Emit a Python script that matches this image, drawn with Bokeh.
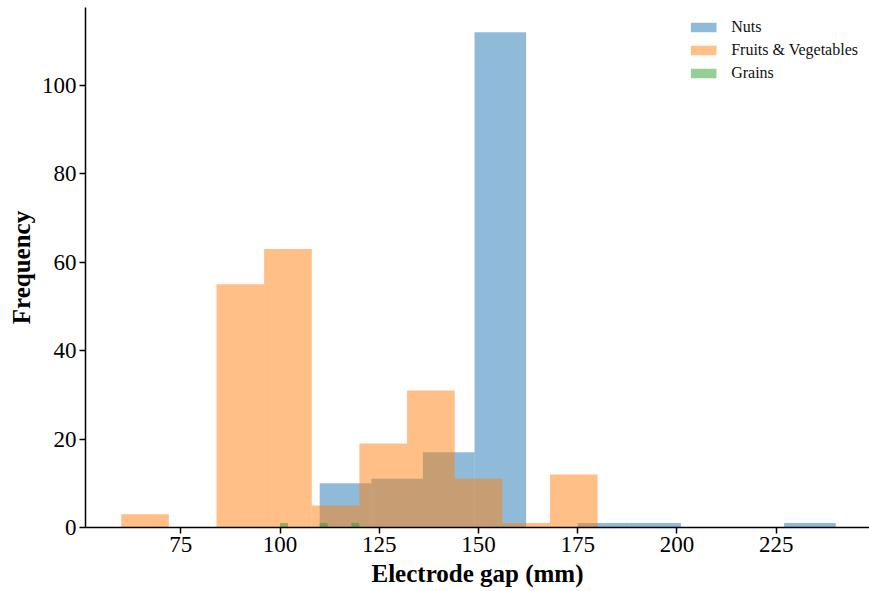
from bokeh.plotting import figure
from bokeh.models import Range1d, FixedTicker
from bokeh.embed import file_html
from bokeh.resources import INLINE

# Histogram bin edges and counts per food category
nuts_edges = [110, 123, 136, 149, 162, 175, 188, 201, 214, 227, 240]
nuts_counts = [10, 11, 17, 112, 0, 1, 1, 0, 0, 1]

fruit_edges = [60, 72, 84, 96, 108, 120, 132, 144, 156, 168, 180]
fruit_counts = [3, 0, 55, 63, 5, 19, 31, 11, 1, 12]

grain_edges = [100, 102, 104, 106, 108, 110, 112, 114, 116, 118, 120]
grain_counts = [1, 0, 0, 0, 0, 1, 0, 0, 0, 1]

x_ticks = [75, 100, 125, 150, 175, 200, 225]
y_ticks = [0, 20, 40, 60, 80, 100]

FONT = "Liberation Serif"

p = figure(width=869, height=591, output_backend="svg", toolbar_location=None,
           x_range=Range1d(51, 248.5), y_range=Range1d(0, 117.6),
           min_border_left=85, min_border_right=0, min_border_top=7,
           min_border_bottom=64)
p.outline_line_color = None
p.xgrid.visible = False
p.ygrid.visible = False

series = [
    ("Nuts", nuts_edges, nuts_counts, "#1f77b4"),
    ("Fruits & Vegetables", fruit_edges, fruit_counts, "#ff7f0e"),
    ("Grains", grain_edges, grain_counts, "#2ca02c"),
]
for name, edges, counts, color in series:
    p.quad(left=edges[:-1], right=edges[1:], bottom=0, top=counts,
           fill_color=color, fill_alpha=0.5, line_alpha=0,
           legend_label=name)

for ax in (p.xaxis[0], p.yaxis[0]):
    ax.axis_line_width = 1.5
    ax.axis_line_color = "black"
    ax.major_tick_line_width = 1.5
    ax.major_tick_out = 6
    ax.major_tick_in = 0
    ax.minor_tick_line_color = None
    ax.major_label_text_font = FONT
    ax.major_label_text_font_size = "23px"
    ax.major_label_text_color = "black"
    ax.axis_label_text_font = FONT
    ax.axis_label_text_font_style = "bold"
    ax.axis_label_text_font_size = "25px"
    ax.axis_label_text_color = "black"

p.xaxis.ticker = FixedTicker(ticks=x_ticks)
p.yaxis.ticker = FixedTicker(ticks=y_ticks)
p.xaxis.axis_label = "Electrode gap (mm)"
p.yaxis.axis_label = "Frequency"
p.xaxis.major_label_standoff = 3
p.yaxis.major_label_standoff = 3
p.xaxis.axis_label_standoff = 5
p.yaxis.axis_label_standoff = 4

lg = p.legend[0]
lg.location = "top_right"
lg.border_line_alpha = 0
lg.background_fill_alpha = 0
lg.label_text_font = FONT
lg.label_text_font_size = "16px"
lg.label_text_color = "#111111"
lg.glyph_width = 32
lg.glyph_height = 12
lg.label_standoff = 12
lg.spacing = 5
lg.padding = 9
lg.margin = 2

open("out.html", "w").write(file_html(p, INLINE))
